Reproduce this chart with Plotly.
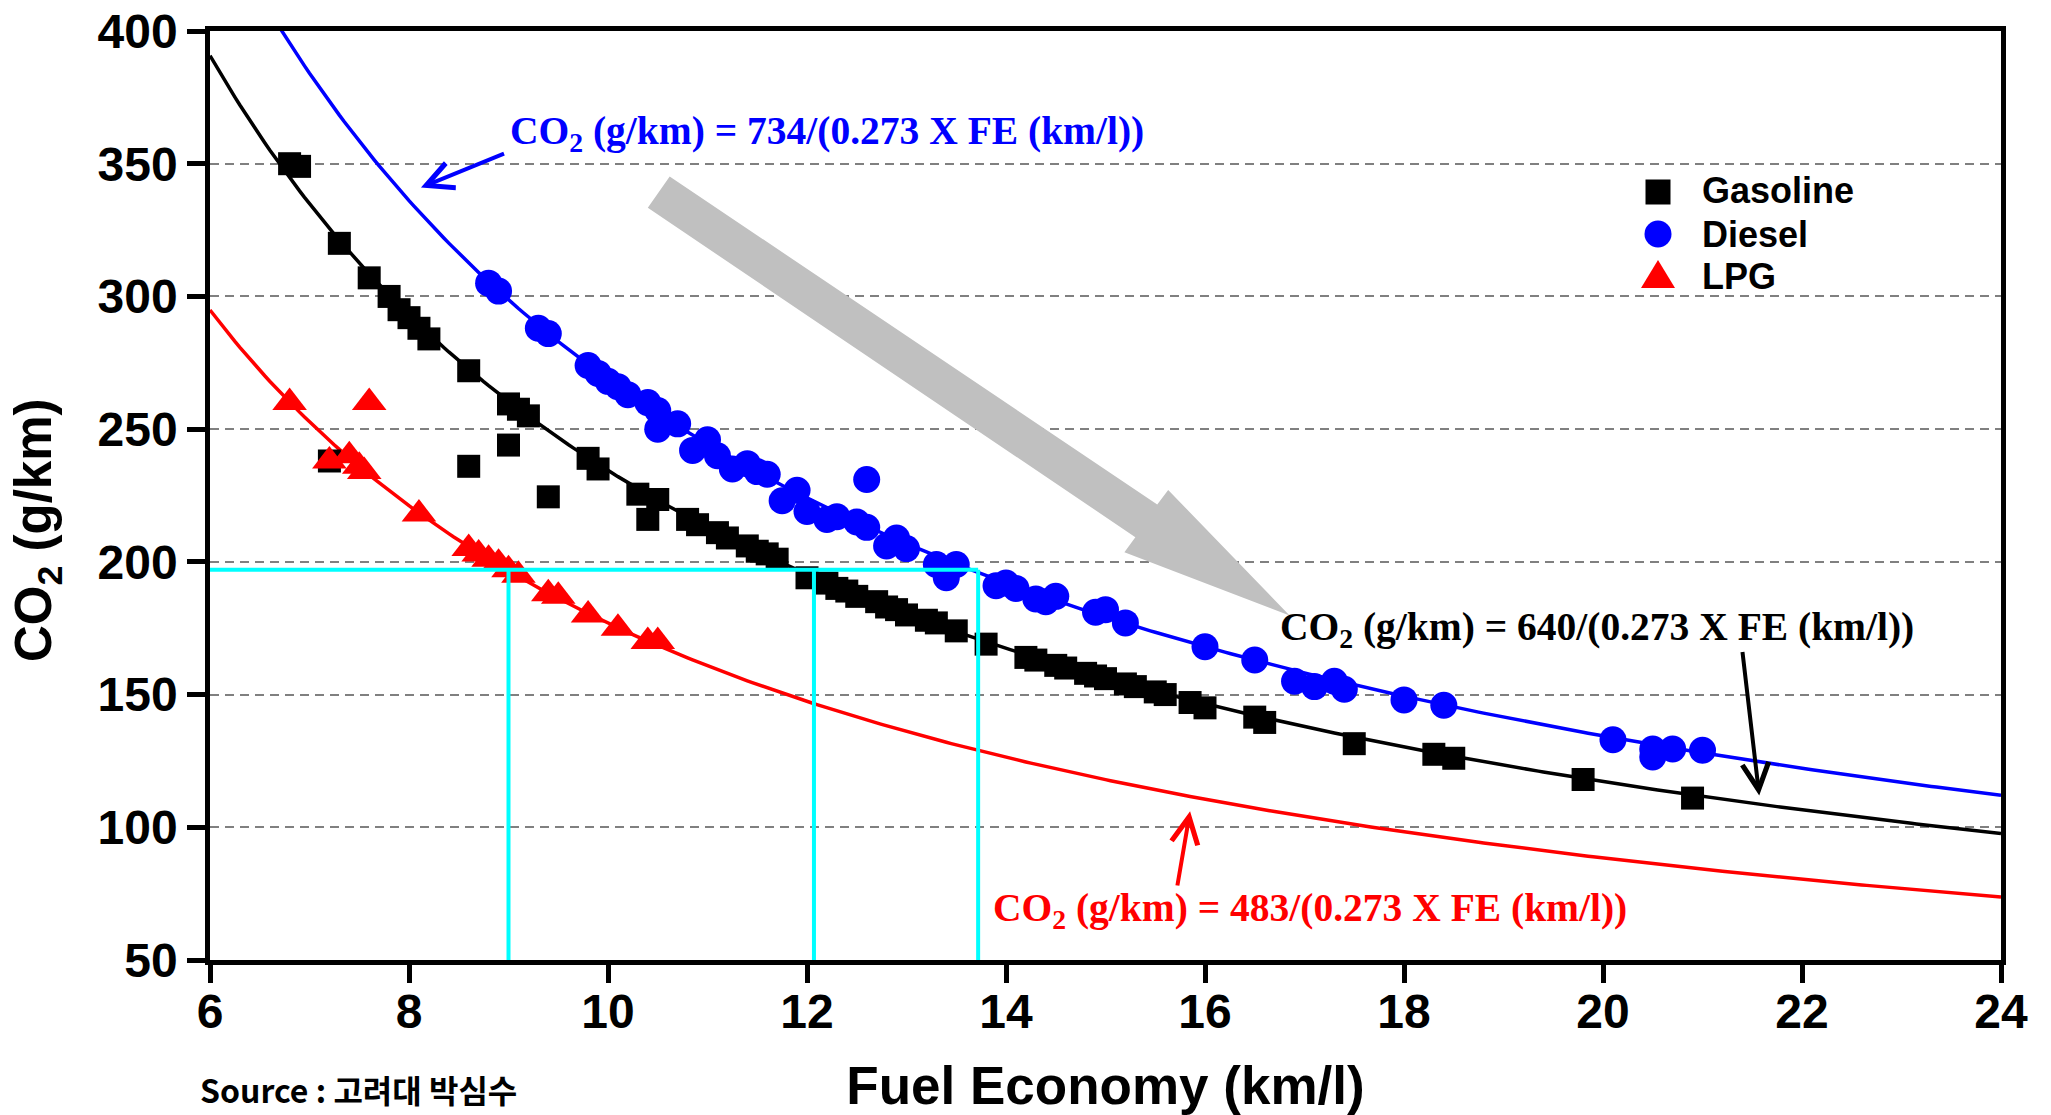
import numpy as np
import plotly.graph_objects as go

# ---------------- data ----------------
gas_fe = [6.8, 6.9, 7.2, 7.3, 7.6, 7.8, 7.9, 8.0, 8.1, 8.2, 8.6, 8.6, 9.0, 9.0, 9.1, 9.2,
          9.4, 9.8, 9.9, 10.3, 10.4, 10.5, 10.8, 10.9, 11.1, 11.2, 11.4, 11.5, 11.6, 11.7,
          12.0, 12.2, 12.3, 12.4, 12.5, 12.7, 12.8, 12.9, 13.0, 13.2, 13.3, 13.5, 13.8,
          14.2, 14.3, 14.5, 14.6, 14.8, 14.9, 15.0, 15.2, 15.3, 15.5, 15.6, 15.85, 16.0,
          16.5, 16.6, 17.5, 18.3, 18.5, 19.8, 20.9]
gas_co2 = [350, 349, 238, 320, 307, 300, 295, 292, 288, 284, 272, 236, 259.5, 244, 257.5, 255,
           224.5, 239, 235, 225.5, 216, 223.5, 216, 214, 211, 209, 206, 204, 203, 201,
           194, 192, 190, 189, 187, 185, 183, 182, 180, 178, 177, 174, 169,
           164, 163, 161, 160, 158, 157, 156, 154, 153, 151, 150, 147, 145,
           141.5, 139.5, 131.5, 127.5, 126, 118, 111]

diesel_fe = [8.8, 8.9, 9.3, 9.4, 9.8, 9.9, 10.0, 10.1, 10.2, 10.4, 10.5, 10.5, 10.7, 10.85,
             11.0, 11.1, 11.25, 11.4, 11.5, 11.6, 11.75, 11.9, 12.0, 12.2, 12.3, 12.5, 12.6,
             12.6, 12.8, 12.9, 13.0, 13.3, 13.4, 13.5, 13.9, 14.0, 14.1, 14.3, 14.4, 14.5,
             14.9, 15.0, 15.2, 16.0, 16.5, 16.9, 17.1, 17.3, 17.4, 18.0, 18.4, 20.1, 20.5,
             20.5, 20.7, 21.0]
diesel_co2 = [305, 302, 288, 286, 274, 271, 268, 266, 263, 260, 257, 250, 252, 242,
              246, 240, 235, 237, 234, 233, 223, 227, 219, 216, 217, 215, 213,
              231, 206, 209, 205, 199, 194, 199, 191, 192, 190, 186, 185, 187,
              181, 182, 177, 168, 163, 155, 153, 155, 152, 148, 146, 133, 129.5,
              126.5, 129.5, 129]

lpg_fe = [6.8, 7.2, 7.4, 7.5, 7.55, 7.6, 8.1, 8.6, 8.7, 8.8, 8.9, 9.0, 9.1, 9.4, 9.5,
          9.8, 10.1, 10.4, 10.5]
lpg_co2 = [260, 238, 240, 236, 234, 260, 218, 205, 203, 201, 199.5, 197, 195, 188, 187,
           180, 175, 170, 170]

# fitted relations written on the chart: CO2 = k / (0.273 * FE)
fit_names = ["Gasoline fit", "Diesel fit", "LPG fit"]
fit_k = [640, 734, 483]
fit_factor = 0.273
fit_colors = ["#000000", "#0000FF", "#FF0000"]
fit_fe = np.linspace(6, 24, 361)

# cyan reference guide
ref_co2 = 197
ref_fe = [9.0, 12.07, 13.72]

x_ticks = [6, 8, 10, 12, 14, 16, 18, 20, 22, 24]
y_ticks = [50, 100, 150, 200, 250, 300, 350, 400]

legend_names = ["Gasoline", "Diesel", "LPG"]
legend_colors = ["#000000", "#0000FF", "#FF0000"]

# ---------------- geometry helpers ----------------
W, H = 2051, 1115
L, R, T, B = 210, 50, 31, 155
pw, ph = W - L - R, H - T - B


def px(xp):
    return (xp - L) / pw


def py(yp):
    return (H - B - yp) / ph


SANS = "Liberation Sans, Arial, sans-serif"
SERIF = "Liberation Serif, Times New Roman, serif"

fig = go.Figure()

for name, k, col in zip(fit_names, fit_k, fit_colors):
    fig.add_trace(go.Scatter(x=fit_fe, y=k / (fit_factor * fit_fe), mode="lines",
                             line=dict(color=col, width=3.5), showlegend=False,
                             hoverinfo="skip", name=name))

fig.add_trace(go.Scatter(x=gas_fe, y=gas_co2, mode="markers", name="Gasoline", showlegend=False,
                         marker=dict(symbol="square", size=23, color="#000000")))
fig.add_trace(go.Scatter(x=diesel_fe, y=diesel_co2, mode="markers", name="Diesel", showlegend=False,
                         marker=dict(symbol="circle", size=27, color="#0000FF")))
fig.add_trace(go.Scatter(x=lpg_fe, y=lpg_co2, mode="markers", name="LPG", showlegend=False,
                         marker=dict(symbol="triangle-up", size=30, color="#FF0000")))

shapes = []
# cyan guide lines
shapes.append(dict(type="line", xref="x", yref="y", x0=6, x1=max(ref_fe), y0=ref_co2, y1=ref_co2,
                   line=dict(color="#00FFFF", width=4), layer="above"))
for fe in ref_fe:
    shapes.append(dict(type="line", xref="x", yref="y", x0=fe, x1=fe, y0=50, y1=ref_co2,
                       line=dict(color="#00FFFF", width=4), layer="above"))
# big grey trend arrow
shapes.append(dict(type="path", xref="x", yref="y", layer="above",
                   path="M 10.62,345.2 L 15.52,221.6 L 15.63,227.1 L 16.85,179.8 "
                        "L 15.19,203.6 L 15.30,209.3 L 10.40,333.4 Z",
                   fillcolor="#C0C0C0", line=dict(width=0)))

# legend glyphs (drawn in paper space so they keep the reference size)
gx = 1658
shapes.append(dict(type="rect", xref="paper", yref="paper",
                   x0=px(gx - 12.5), x1=px(gx + 12.5), y0=py(192 + 12.5), y1=py(192 - 12.5),
                   fillcolor=legend_colors[0], line=dict(width=0)))
shapes.append(dict(type="circle", xref="paper", yref="paper",
                   x0=px(gx - 13.5), x1=px(gx + 13.5), y0=py(234 + 13.5), y1=py(234 - 13.5),
                   fillcolor=legend_colors[1], line=dict(width=0)))
shapes.append(dict(type="path", xref="paper", yref="paper",
                   path=f"M {px(gx - 17)},{py(288)} L {px(gx + 17)},{py(288)} L {px(gx)},{py(260)} Z",
                   fillcolor=legend_colors[2], line=dict(width=0)))

annotations = []
for name, yc in zip(legend_names, [191, 234, 276]):
    annotations.append(dict(x=px(1700), y=py(yc), xref="paper", yref="paper", text=name,
                            showarrow=False, xanchor="left", yanchor="middle",
                            font=dict(family=SANS, size=36, color="#000000", weight="bold")))

eq_font = dict(family=SERIF, size=39.5, weight="bold")
annotations.append(dict(x=8.99, y=361.5, xref="x", yref="y", xanchor="left", yanchor="middle",
                        text="CO<sub>2</sub> (g/km) = 734/(0.273 X FE (km/l))",
                        font=dict(color="#0000FF", **eq_font), showarrow=False))
annotations.append(dict(x=16.73, y=174.5, xref="x", yref="y", xanchor="left", yanchor="middle",
                        text="CO<sub>2</sub> (g/km) = 640/(0.273 X FE (km/l))",
                        font=dict(color="#000000", **eq_font), showarrow=False))
annotations.append(dict(x=13.85, y=68.5, xref="x", yref="y", xanchor="left", yanchor="middle",
                        text="CO<sub>2</sub> (g/km) = 483/(0.273 X FE (km/l))",
                        font=dict(color="#FF0000", **eq_font), showarrow=False))
# pointer arrows
for (x, y, ax, ay, col) in [(8.12, 341, 8.97, 354, "#0000FF"),
                            (21.57, 112, 21.40, 166.6, "#000000"),
                            (15.85, 106, 15.72, 77.5, "#FF0000")]:
    annotations.append(dict(x=x, y=y, ax=ax, ay=ay, xref="x", yref="y", axref="x", ayref="y",
                            text="", showarrow=True, arrowhead=5, arrowsize=1.3,
                            arrowwidth=4, arrowcolor=col))
# y-axis title (placed as in the reference, a little below the axis centre)
annotations.append(dict(x=px(37), y=py(530), xref="paper", yref="paper",
                        text="CO<sub>2</sub> (g/km)", textangle=-90, showarrow=False,
                        xanchor="center", yanchor="middle",
                        font=dict(family=SANS, size=51, color="#000000", weight="bold")))
# source note
annotations.append(dict(x=px(199), y=py(1089), xref="paper", yref="paper",
                        text="Source : 고려대 박심수", showarrow=False,
                        xanchor="left", yanchor="middle", borderpad=0,
                        font=dict(family="Noto Sans CJK KR, " + SANS, size=32, color="#000000",
                                  weight="bold")))

axis_common = dict(showline=True, linecolor="#000000", linewidth=4.5, mirror=True,
                   ticks="outside", ticklen=18, tickwidth=4.5, tickcolor="#000000",
                   zeroline=False, automargin=False,
                   tickfont=dict(family=SANS, size=48, color="#000000", weight="bold"))

fig.update_layout(
    width=W, height=H,
    margin=dict(l=L, r=R, t=T, b=B, pad=0),
    paper_bgcolor="#FFFFFF", plot_bgcolor="#FFFFFF",
    shapes=shapes, annotations=annotations,
    showlegend=False,
    xaxis=dict(range=[6, 24], tickvals=x_ticks, showgrid=False, ticklabelstandoff=-12,
               title=dict(text="Fuel Economy (km/l)", standoff=35,
                          font=dict(family=SANS, size=53, color="#000000", weight="bold")),
               **axis_common),
    yaxis=dict(range=[50, 400], tickvals=y_ticks, showgrid=True, gridcolor="#808080",
               gridwidth=2, griddash="9px,6px",
               **axis_common),
)

fig.write_html("out.html", config={"displayModeBar": False},
               post_script="document.body.style.margin='0';")
